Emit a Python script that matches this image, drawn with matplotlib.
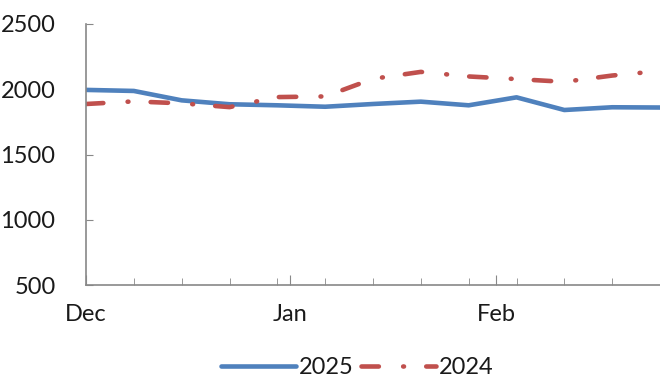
import matplotlib
matplotlib.use('Agg')
import matplotlib.pyplot as plt
import numpy as np

# ============================ DADOS ============================
semanas = np.arange(13)  # pontos semanais a partir de Dec

serie_2025 = [1995, 1987, 1915, 1885, 1877, 1866, 1887, 1905, 1877, 1938, 1841, 1862, 1860]
serie_2024 = [1887, 1907, 1892, 1863, 1940, 1945, 2080, 2133, 2098, 2078, 2057, 2105, 2140]

meses = ["Dec", "Jan", "Feb"]
pos_meses = [0, 4.27, 8.57]

y_ticks = [500, 1000, 1500, 2000, 2500]

plt.rcParams['font.family'] = ['Lato', 'DejaVu Sans']
plt.rcParams['lines.scale_dashes'] = False

fig = plt.figure(figsize=(6.6, 3.85), dpi=100)
ax = fig.add_axes([86 / 660, 1 - 285 / 385, 1 - 86 / 660, (285 - 24) / 385])

ax.plot(semanas, serie_2025, color='#4F81BD', lw=3.3, label='2025',
        solid_capstyle='round', solid_joinstyle='round')
ax.plot(semanas, serie_2024, color='#C0504D', lw=3.3, label='2024',
        dashes=(12.5, 17.5, 0.6, 16), dash_capstyle='round')

ax.set_ylim(500, 2500)
ax.set_xlim(0, (660 - 86) / 48.2)
ax.set_yticks(y_ticks)
ax.set_xticks(pos_meses)
ax.set_xticklabels(meses)
ax.set_xticks(semanas[1:], minor=True)

for s in ['top', 'right']:
    ax.spines[s].set_visible(False)
for s in ['left', 'bottom']:
    ax.spines[s].set_color('#888888')
    ax.spines[s].set_linewidth(1.2)

ax.tick_params(axis='y', direction='in', length=5, color='#888888', labelsize=17,
               labelcolor='#1a1a1a', pad=22)
ax.tick_params(axis='x', which='major', direction='in', length=7, color='#888888', labelsize=17,
               labelcolor='#1a1a1a', pad=14)
ax.tick_params(axis='x', which='minor', direction='in', length=5, color='#888888')

fig.legend(loc='center', bbox_to_anchor=(357 / 660, 1 - 368 / 385), ncol=2, frameon=False,
           fontsize=17, handlelength=3.2, handletextpad=0.1, columnspacing=0.3,
           labelcolor='#1a1a1a')

fig.savefig('out.png', dpi=100)
